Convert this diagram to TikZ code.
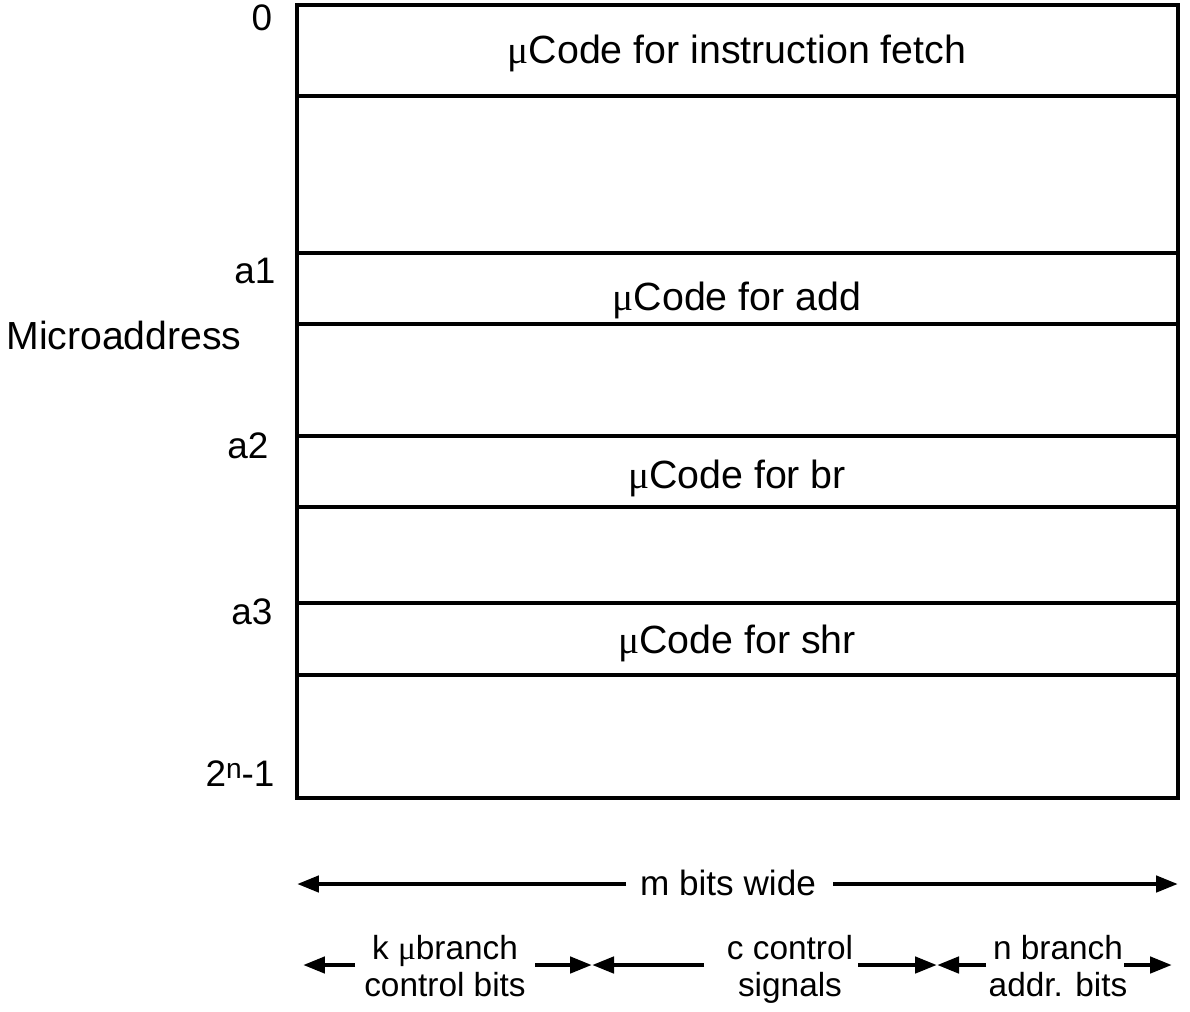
\documentclass[tikz,border=0pt]{standalone}
\usepackage{fontspec}
\setmainfont{Liberation Sans}
\newfontfamily\muserif{Liberation Serif}
\usetikzlibrary{arrows.meta}
\newcommand{\mysym}{{\muserif μ}}
\begin{document}
\begin{tikzpicture}[x={(0.02cm,0)},y={(0,-0.02cm)},
  box/.style={line width=2.6pt},
  arr/.style={line width=2.6pt,-{Triangle[length=0.44cm,width=0.32cm]}},
  lbl/.style={font=\fontsize{21}{24}\selectfont, inner sep=0pt},
  row/.style={font=\fontsize{22.4}{26}\selectfont, inner sep=0pt},
  sub/.style={font=\fontsize{19}{21}\selectfont, inner sep=0pt, align=center, anchor=north}]
\useasboundingbox (0,0) rectangle (1190,1011);
% memory box
\draw[box] (297,5) rectangle (1178,798);
\foreach \yy in {96,253,324,436,507,603,675} \draw[box] (297,\yy) -- (1178,\yy);
% row texts
\node[row] (fetch) at (737,53) {\mysym Code for instruction fetch};
\node[row] (add) at (737,300) {\mysym Code for add};
\node[row] (br) at (737,478) {\mysym Code for br};
\node[row] (shr) at (737,643) {\mysym Code for shr};
% address labels
\node[lbl] (a0) at (262,18) {0};
\node[lbl] (a1) at (255,271) {a1};
\node[lbl] (ma) at (124,335) {\fontsize{22.3}{25}\selectfont Microaddress};
\node[lbl] (a2) at (248,446) {a2};
\node[lbl] (a3) at (252,612) {a3};
\node[lbl] (aN) at (240,774) {2\raisebox{0.45ex}{\fontsize{16}{18}\selectfont n}-1};
% m bits wide
\node[lbl, font=\fontsize{20}{22}\selectfont] (mw) at (728,883) {m bits wide};
\coordinate (mL) at (297,884);
\coordinate (mR) at (1178,884);
\coordinate (mLs) at (626,884);
\coordinate (mRs) at (833,884);
\draw[arr] (mLs) -- (mL);
\draw[arr] (mRs) -- (mR);
% sub fields
\node[sub] (k) at (445,935) {k \mysym branch\\control bits};
\node[sub] (c) at (790,935) {c control\\signals};
\node[sub] (n) at (1058,935) {n branch\\addr. bits};
\coordinate (k1) at (355,965); \coordinate (k0) at (303,965);
\coordinate (k2) at (535,965); \coordinate (k3) at (592,965);
\coordinate (c1) at (704,965); \coordinate (c0) at (592,965);
\coordinate (c2) at (858,965); \coordinate (c3) at (937,965);
\coordinate (n1) at (986,965); \coordinate (n0) at (937,965);
\coordinate (n2) at (1124,965); \coordinate (n3) at (1172,965);
\draw[arr] (k1) -- (k0);
\draw[arr] (k2) -- (k3);
\draw[arr] (c1) -- (c0);
\draw[arr] (c2) -- (c3);
\draw[arr] (n1) -- (n0);
\draw[arr] (n2) -- (n3);
\end{tikzpicture}
\end{document}
